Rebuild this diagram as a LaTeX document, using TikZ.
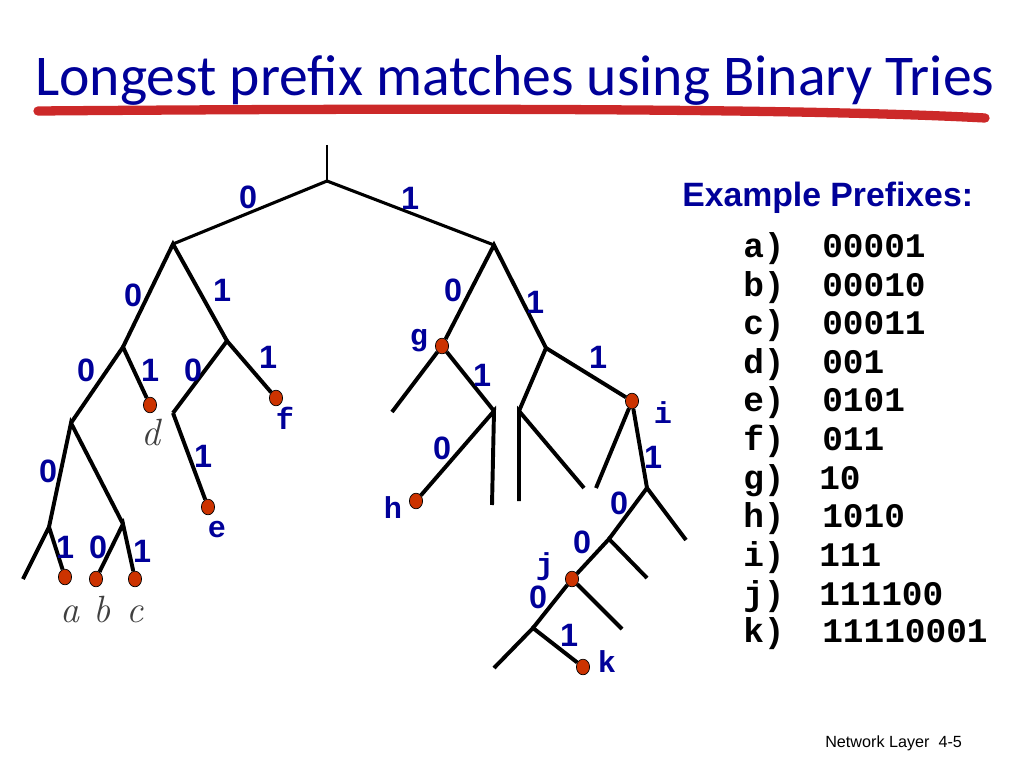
\documentclass[tikz,border=0pt]{standalone}
\usepackage{fontspec}
\setsansfont{Liberation Sans}
\setmonofont{Liberation Mono}
\newfontfamily\titlefont{Carlito}
\usetikzlibrary{shapes.geometric}
\definecolor{slideblue}{RGB}{0,0,153}
\definecolor{leafred}{RGB}{204,51,0}
\definecolor{brushred}{RGB}{204,41,41}

\begin{document}
\begin{tikzpicture}[x=0.025cm, y=-0.025cm]
\tikzset{
    edge/.style={line width=2.8pt},
    topedge/.style={line width=2.2pt},
    stem/.style={line width=1.4pt},
    leaf/.style={ellipse, draw=black, line width=0.5pt, fill=leafred, minimum width=0.33cm, minimum height=0.39cm, inner sep=0pt},
    bit/.style={font=\sffamily\bfseries\fontsize{23}{23}\selectfont, text=slideblue, inner sep=0pt},
    tag/.style={font=\ttfamily\bfseries\fontsize{21.5}{21.5}\selectfont, text=slideblue, inner sep=0pt, anchor=base},
    itag/.style={font=\rmfamily\itshape\fontsize{27}{27}\selectfont, text=black!75, inner sep=0pt, anchor=base},
    entry/.style={font=\ttfamily\bfseries\fontsize{24.5}{24.5}\selectfont, inner sep=0pt, anchor=base west}
}
\useasboundingbox (0,0) rectangle (1024,768);

% --- title ---
\node[font=\titlefont\fontsize{41}{41}\selectfont, text=slideblue, inner sep=0pt, anchor=base west] (title) at (35,96) {Longest prefix matches using Binary Tries};
\coordinate (ulstart) at (38,111);
\coordinate (ulend) at (985,118);
\draw[brushred, line width=6.6pt, line cap=round] (ulstart) .. controls (400,108) and (800,108) .. (ulend);

% --- inner nodes ---
\coordinate (top) at (327,145);
\coordinate (root) at (327,181);
\coordinate (n0) at (173,244);
\coordinate (n1) at (494,245);
\coordinate (n00) at (123,347);
\coordinate (n01) at (227,341);
\coordinate (n000) at (71,423);
\coordinate (n010) at (173,413);
\coordinate (n0000) at (49,527);
\coordinate (n0001) at (123,524);
\coordinate (n00000) at (23,579);
\coordinate (n11) at (546,348);
\coordinate (n100) at (392,412);
\coordinate (n101) at (494,411);
\coordinate (n1011) at (492,505);
\coordinate (n110) at (519,411);
\coordinate (n1100) at (519,501);
\coordinate (n1101) at (584,488);
\coordinate (n1110) at (596,488);
\coordinate (n1111) at (647,488);
\coordinate (n11110) at (609,539);
\coordinate (n11111) at (686,540);
\coordinate (n111101) at (647,578);
\coordinate (n1111000) at (533,628);
\coordinate (n1111001) at (622,629);
\coordinate (n11110000) at (494,668);

% --- prefix nodes ---
\node[leaf] (n00001) at (65,577) {};
\node[leaf] (n00010) at (96,579) {};
\node[leaf] (n00011) at (135,579) {};
\node[leaf] (n001) at (150,405) {};
\node[leaf] (n0101) at (208,507) {};
\node[leaf] (n011) at (276,398) {};
\node[leaf] (n10) at (442,346) {};
\node[leaf] (n1010) at (416,501) {};
\node[leaf] (n111) at (632,401) {};
\node[leaf] (n111100) at (572,579) {};
\node[leaf] (n11110001) at (583,667) {};

% --- edges ---
\draw[stem] (top)--(root);
\draw[topedge] (n0)--(root)--(n1);
\draw[edge] (n00)--(n0)--(n01);
\draw[edge] (n000)--(n00)--(n001);
\draw[edge] (n010)--(n01)--(n011);
\draw[edge] (n0000)--(n000)--(n0001);
\draw[edge] (n010)--(n0101);
\draw[edge] (n00000)--(n0000)--(n00001);
\draw[edge] (n00010)--(n0001)--(n00011);
\draw[edge] (n10)--(n1)--(n11);
\draw[edge] (n100)--(n10)--(n101);
\draw[edge] (n110)--(n11)--(n111);
\draw[edge] (n1010)--(n101)--(n1011);
\draw[edge] (n1100)--(n110)--(n1101);
\draw[edge] (n1110)--(n111)--(n1111);
\draw[edge] (n11110)--(n1111)--(n11111);
\draw[edge] (n111100)--(n11110)--(n111101);
\draw[edge] (n1111000)--(n111100)--(n1111001);
\draw[edge] (n11110000)--(n1111000)--(n11110001);

% --- bit labels ---
\node[bit] (b0) at (248,197) {0};
\node[bit] (b1) at (410,198) {1};
\node[bit] (b00) at (133,295) {0};
\node[bit] (b01) at (222,290) {1};
\node[bit] (b000) at (86,370) {0};
\node[bit] (b001) at (150,370) {1};
\node[bit] (b010) at (193,370) {0};
\node[bit] (b011) at (268,357) {1};
\node[bit] (b0000) at (48,471) {0};
\node[bit] (b0101) at (203,456) {1};
\node[bit] (b00001) at (65,547) {1};
\node[bit] (b00010) at (98,547) {0};
\node[bit] (b00011) at (142,551) {1};
\node[bit] (b10) at (453,290) {0};
\node[bit] (b11) at (535,302) {1};
\node[bit] (b101) at (482,375) {1};
\node[bit] (b111) at (598,357) {1};
\node[bit] (b1010) at (442,448) {0};
\node[bit] (b1111) at (653,457) {1};
\node[bit] (b11110) at (619,503) {0};
\node[bit] (b111100) at (582,542) {0};
\node[bit] (b1111000) at (538,597) {0};
\node[bit] (b11110001) at (569,635) {1};

% --- prefix tags ---
\node[itag] (ta) at (70,622) {a};
\node[itag] (tb) at (102,622) {b};
\node[itag] (tc) at (135,622) {c};
\node[itag] (td) at (151,445) {d};
\node[tag] (te) at (217,537) {e};
\node[tag] (tf) at (285,429) {f};
\node[tag] (tg) at (419,345) {g};
\node[tag] (th) at (393,518) {h};
\node[tag] (ti) at (663,423) {i};
\node[tag] (tj) at (545,574) {j};
\node[tag] (tk) at (607,672) {k};

% --- prefix list ---
\node[font=\sffamily\bfseries\fontsize{24}{24}\selectfont, text=slideblue, inner sep=0pt, anchor=base west] (head) at (682,206) {Example Prefixes:};
\node[entry] (la) at (743,257) {a)};   \node[entry] (va) at (822,257) {00001};
\node[entry] (lb) at (743,296) {b)};   \node[entry] (vb) at (822,296) {00010};
\node[entry] (lc) at (743,334) {c)};   \node[entry] (vc) at (822,334) {00011};
\node[entry] (ld) at (743,373) {d)};   \node[entry] (vd) at (822,373) {001};
\node[entry] (le) at (743,411) {e)};   \node[entry] (ve) at (822,411) {0101};
\node[entry] (lf) at (743,450) {f)};   \node[entry] (vf) at (822,450) {011};
\node[entry] (lg) at (743,489) {g)};   \node[entry] (vg) at (819,489) {10};
\node[entry] (lh) at (743,527) {h)};   \node[entry] (vh) at (822,527) {1010};
\node[entry] (li) at (743,566) {i)};   \node[entry] (vi) at (819,566) {111};
\node[entry] (lj) at (743,605) {j)};   \node[entry] (vj) at (819,605) {111100};
\node[entry] (lk) at (743,642) {k)};   \node[entry] (vk) at (822,642) {11110001};

% --- footer ---
\node[font=\sffamily\fontsize{11.5}{11.5}\selectfont, inner sep=0pt, anchor=base west] (foot) at (825,747) {Network Layer\ \ 4-5};
\end{tikzpicture}
\end{document}
